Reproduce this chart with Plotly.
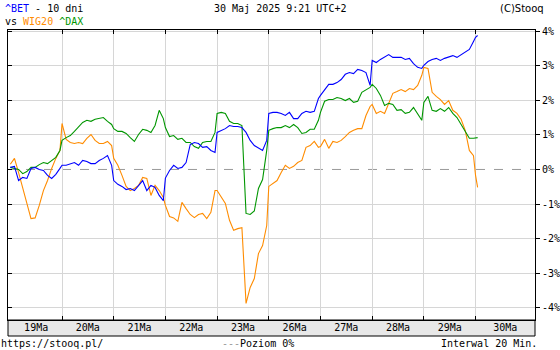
import plotly.graph_objects as go

# ---------------- data ----------------
days = ["19Ma", "20Ma", "21Ma", "22Ma", "23Ma", "26Ma", "27Ma", "28Ma", "29Ma", "30Ma"]
full_session_minutes = [0, 40, 80, 120, 160, 200, 240, 280, 320, 360, 400, 440, 480]
last_session_minutes = [0, 20]
session_span = 500  # minutes mapped to one day slot

bet = [
    0.06, 0.09, -0.32, -0.23, -0.26, 0.03, 0.06, 0.00, -0.03, -0.17, -0.26, -0.14, 0.03,
    0.12, 0.12, 0.17, 0.20, 0.12, 0.26, 0.23, 0.17, 0.17, 0.26, 0.32, 0.40, 0.12,
    -0.32, -0.43, -0.49, -0.58, -0.55, -0.61, -0.46, -0.32, -0.61, -0.46, -0.52, -0.75, -0.90,
    -0.25, -0.03, 0.12, 0.03, 0.06, 0.20, 0.72, 0.78, 0.75, 0.64, 0.66, 0.55, 0.49,
    1.07, 1.13, 1.18, 1.27, 1.24, 1.24, 1.21, 1.07, 0.84, 0.69, 0.61, 0.55, 0.84,
    1.62, 1.65, 1.65, 1.62, 1.56, 1.65, 1.47, 1.47, 1.62, 1.68, 1.65, 1.68, 2.05,
    2.14, 2.31, 2.46, 2.46, 2.51, 2.60, 2.75, 2.80, 2.77, 2.89, 2.86, 2.80, 2.43,
    3.15, 3.09, 3.18, 3.24, 3.32, 3.24, 3.24, 3.24, 3.18, 3.21, 3.06, 2.95, 2.92,
    3.01, 3.12, 3.18, 3.21, 3.15, 3.21, 3.24, 3.29, 3.24, 3.32, 3.38, 3.47, 3.70,
    3.82, 3.87,
]
wig20 = [
    0.15, 0.32, -0.09, -0.55, -0.98, -1.42, -1.40, -1.04, -0.61, -0.32, 0.03, 0.32, 0.55,
    1.33, 0.87, 0.78, 0.75, 0.78, 0.75, 0.90, 1.01, 0.84, 0.75, 0.75, 0.81, 0.69,
    0.32, 0.12, -0.17, -0.49, -0.61, -0.55, -0.46, -0.23, -0.26, -0.75, -0.46, -0.61, -0.81,
    -1.04, -1.36, -1.40, -1.50, -0.95, -1.13, -1.30, -1.39, -1.30, -1.27, -1.42, -1.24, -0.61,
    -0.61, -0.81, -0.98, -1.47, -1.76, -1.71, -1.68, -3.87, -3.41, -3.15, -2.43, -2.20, -1.62,
    -0.49, -0.40, -0.32, -0.09, 0.12, 0.03, 0.09, 0.20, 0.26, 0.64, 0.69, 0.81, 0.64,
    0.66, 0.87, 0.61, 0.81, 0.78, 0.84, 0.95, 1.07, 1.13, 1.18, 1.18, 1.56, 1.82,
    1.88, 1.62, 1.68, 1.62, 1.94, 2.20, 2.25, 2.31, 2.25, 2.34, 2.31, 2.43, 2.72,
    2.95, 2.92, 2.23, 2.11, 2.02, 1.88, 1.99, 1.71, 1.62, 1.45, 1.13, 0.55, 0.40,
    -0.17, -0.52,
]
dax = [
    0.06, 0.03, 0.00, -0.12, -0.06, 0.06, 0.06, 0.14, 0.20, 0.17, 0.26, 0.35, 0.55,
    0.84, 0.92, 0.98, 1.10, 1.24, 1.36, 1.42, 1.39, 1.45, 1.47, 1.50, 1.39, 1.30,
    1.18, 1.10, 1.10, 1.04, 0.92, 0.81, 1.01, 1.16, 1.13, 1.07, 1.27, 1.71, 1.47,
    1.21, 0.95, 0.98, 0.87, 0.90, 0.78, 0.78, 0.66, 0.61, 0.78, 0.81, 0.81, 1.07,
    1.62, 1.65, 1.62, 1.39, 1.33, 1.33, 1.27, -1.27, -1.30, -1.20, -0.55, -0.29, 0.55,
    1.13, 1.18, 1.21, 1.21, 1.27, 1.21, 1.30, 1.21, 1.04, 1.07, 1.16, 1.16, 1.42,
    1.65, 1.97, 2.02, 2.02, 2.08, 2.05, 1.99, 2.05, 1.94, 1.97, 2.23, 2.31, 2.37,
    2.46, 2.34, 2.14, 1.85, 1.91, 1.88, 1.71, 1.73, 1.62, 1.65, 1.79, 1.62, 1.42,
    1.94, 2.11, 1.71, 1.68, 1.76, 1.68, 1.79, 1.62, 1.50, 1.30, 1.13, 0.90, 0.90,
    0.92, 0.92,
]
y_ticks = [4, 3, 2, 1, 0, -1, -2, -3, -4]
y_tick_labels = ["4%", "3%", "2%", "1%", "0%", "-1%", "-2%", "-3%", "-4%"]

# ---------------- build x from sessions ----------------
x = []
for i, d in enumerate(days):
    mins = last_session_minutes if i == len(days) - 1 else full_session_minutes
    for m in mins:
        x.append(i + m / session_span)

W, H = 560, 350
ML, MR, MT, MB = 8, 25, 30, 30
X_RANGE = [-0.045, 10.15]
Y_RANGE = [-4.35, 4.03]
plot_w = W - ML - MR
plot_h = H - MT - MB

def px_x(p):
    return (p - ML) / plot_w

def px_y(p):
    return (H - MB - p) / plot_h

boundaries = list(range(1, len(days)))
label_pos = [i + 0.5 for i in range(len(days) - 1)] + [(len(days) - 1 + X_RANGE[1]) / 2]

FONT = "DejaVu Sans Mono"
GRID = "#d6d6d6"
BLUE, ORANGE, GREEN = "#0000ff", "#ff8c00", "#009600"

fig = go.Figure()
fig.add_trace(go.Scatter(x=x, y=wig20, mode="lines", line=dict(color=ORANGE, width=1.1), name="WIG20"))
fig.add_trace(go.Scatter(x=x, y=dax, mode="lines", line=dict(color=GREEN, width=1.1), name="^DAX"))
fig.add_trace(go.Scatter(x=x, y=bet, mode="lines", line=dict(color=BLUE, width=1.1), name="^BET"))
# helper traces so overlay axes are drawn
fig.add_trace(go.Scatter(x=[None], y=[None], xaxis="x2", yaxis="y", showlegend=False, hoverinfo="skip"))
fig.add_trace(go.Scatter(x=[None], y=[None], xaxis="x", yaxis="y2", showlegend=False, hoverinfo="skip"))
fig.add_trace(go.Scatter(x=[None], y=[None], xaxis="x", yaxis="y3", showlegend=False, hoverinfo="skip"))

fig.update_layout(
    width=W, height=H, autosize=False,
    margin=dict(l=ML, r=MR, t=MT, b=MB, pad=0, autoexpand=False),
    paper_bgcolor="white", plot_bgcolor="white",
    showlegend=False,
    font=dict(family=FONT, size=10, color="black"),
    xaxis=dict(range=X_RANGE, tickvals=boundaries, showticklabels=False, automargin=False,
               ticks="inside", ticklen=4, tickcolor="black", tickwidth=1,
               showgrid=True, gridcolor=GRID, gridwidth=1, zeroline=False,
               showline=True, linecolor="black", linewidth=1, mirror="ticks"),
    xaxis2=dict(range=X_RANGE, overlaying="x", side="bottom", anchor="y", automargin=False,
                tickvals=label_pos, ticktext=days, ticks="", showgrid=False,
                zeroline=False, showline=False, tickfont=dict(family=FONT, size=10)),
    yaxis=dict(range=Y_RANGE, side="right", tickvals=y_ticks, ticktext=y_tick_labels,
               automargin=False,
               ticks="outside", ticklen=4, tickcolor="black", showgrid=False,
               zeroline=False, showline=True, linecolor="black", linewidth=1,
               tickfont=dict(family=FONT, size=10)),
    yaxis2=dict(range=Y_RANGE, overlaying="y", side="left", tickvals=y_ticks, automargin=False,
                showticklabels=False, ticks="inside", ticklen=4, tickcolor="black",
                showgrid=False, zeroline=False, showline=True, linecolor="black", linewidth=1),
    yaxis3=dict(range=Y_RANGE, overlaying="y", side="left", tickvals=[v for v in y_ticks if v != 0],
                automargin=False,
                showticklabels=False, ticks="", showgrid=True, gridcolor=GRID, gridwidth=1,
                zeroline=False, showline=False),
)

# date band
fig.add_shape(type="rect", xref="paper", yref="paper", x0=0, x1=1,
              y0=px_y(336), y1=0, fillcolor="#e8e8e8", line=dict(color="black", width=1), layer="below")
# 0% level
fig.add_shape(type="line", xref="paper", yref="y", x0=0, x1=1, y0=0, y1=0,
              line=dict(color="#999999", width=1, dash="dash"), layer="between")

def ann(text, px, py, xanchor="left", size=10, family=FONT):
    fig.add_annotation(text=text, xref="paper", yref="paper", x=px_x(px), y=px_y(py),
                       xanchor=xanchor, yanchor="middle", showarrow=False, borderpad=0,
                       font=dict(family=family, size=size, color="black"))

ann(f'<span style="color:{BLUE}">^BET</span> - 10 dni', 4, 8)
ann(f'vs <span style="color:{ORANGE}">WIG20</span> <span style="color:{GREEN}">^DAX</span>', 4, 21)
ann("30 Maj 2025 9:21 UTC+2", 280, 8, xanchor="center")
ann("(C)Stooq", 545, 8, xanchor="right", family="DejaVu Sans")
ann("https://stooq.pl/", 0, 343)
ann('<span style="color:#999999">---</span>Poziom 0%', 258, 343, xanchor="center")
ann("Interwal 20 Min.", 538, 343, xanchor="right")

fig.write_html("out.html", config={"displayModeBar": False},
               post_script="document.body.style.margin='0';document.body.style.overflow='hidden';")
